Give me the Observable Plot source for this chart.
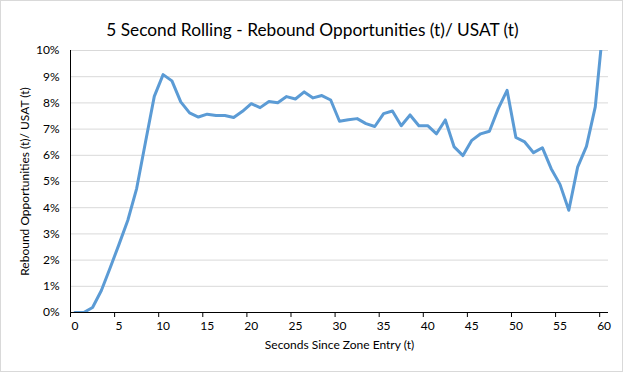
<!DOCTYPE html>
<html>
<head>
<meta charset="utf-8">
<script src="https://cdn.jsdelivr.net/npm/d3@7"></script>
<script src="https://cdn.jsdelivr.net/npm/@observablehq/plot@0.6"></script>
<style>
  html, body { margin: 0; padding: 0; background: #fff; }
  #chart svg { display: block; }
</style>
</head>
<body>
<div id="chart"></div>
<script>
const title = "5 Second Rolling - Rebound Opportunities (t)/ USAT (t)";
const xTitle = "Seconds Since Zone Entry (t)";
const yTitle = "Rebound Opportunities (t)/ USAT (t)";

const seconds = [0,1,2,3,4,5,6,7,8,9,10,11,12,13,14,15,16,17,18,19,20,
  21,22,23,24,25,26,27,28,29,30,31,32,33,34,35,36,37,38,39,40,
  41,42,43,44,45,46,47,48,49,50,51,52,53,54,55,56,57,58,59,60];
const ratioPct = [0, 0, 0.19, 0.84, 1.71, 2.6, 3.52, 4.73, 6.5, 8.25, 9.08,
  8.84, 8.04, 7.62, 7.46, 7.57, 7.52, 7.52, 7.44, 7.68, 7.97,
  7.82, 8.05, 8.01, 8.24, 8.15, 8.42, 8.19, 8.28, 8.11, 7.30,
  7.36, 7.40, 7.21, 7.10, 7.59, 7.69, 7.13, 7.54, 7.13, 7.13,
  6.82, 7.35, 6.32, 5.99, 6.57, 6.82, 6.92, 7.78, 8.48, 6.68,
  6.51, 6.10, 6.29, 5.49, 4.89, 3.90, 5.55, 6.34, 7.85, 11.3];
const xTickLabels = [0,5,10,15,20,25,30,35,40,45,50,55,60];
const xTickMarks = [-0.5,4.5,9.5,14.5,19.5,24.5,29.5,34.5,39.5,44.5,49.5,54.5,59.5];
const yTicks = [0,1,2,3,4,5,6,7,8,9,10];

const data = seconds.map((t, i) => ({t, v: ratioPct[i]}));
const font = "Lato, 'Open Sans', sans-serif";

const chart = Plot.plot({
  width: 623,
  height: 372,
  marginTop: 50,
  marginBottom: 60,
  marginLeft: 70,
  marginRight: 15,
  style: {fontFamily: font, fontSize: "12px", color: "#000", background: "#fff"},
  x: {domain: [-0.5, 60.5]},
  y: {domain: [0, 10]},
  marks: [
    Plot.gridY(yTicks, {stroke: "#D9D9D9", strokeOpacity: 1}),
    Plot.axisY(yTicks, {tickSize: 0, tickPadding: 11, tickFormat: d => d + "%", label: null, fontSize: 12, fill: "#000"}),
    Plot.axisX(xTickLabels, {tickSize: 0, tickPadding: 9, label: null, fontSize: 12, fill: "#000"}),
    Plot.axisX(xTickMarks, {tickSize: 5, tickFormat: () => "", label: null, stroke: "#000"}),
    Plot.line(data, {x: "t", y: "v", stroke: "#5B9BD5", strokeWidth: 3, strokeLinejoin: "round", strokeLinecap: "round", clip: true}),
    Plot.ruleY([0], {stroke: "#000"}),
    Plot.ruleX([-0.5], {stroke: "#000"}),
    Plot.text([title], {frameAnchor: "top", textAnchor: "middle", dx: -27, dy: -27, fontSize: 17.3, fill: "#000", fontFamily: font}),
    Plot.text([xTitle], {frameAnchor: "bottom", textAnchor: "middle", dy: 36, fontSize: 12, fill: "#000", fontFamily: font}),
    Plot.text([yTitle], {frameAnchor: "left", textAnchor: "middle", dx: -45, rotate: -90, fontSize: 12, fill: "#000", fontFamily: font})
  ]
});

d3.select(chart).append("rect")
  .attr("x", 0.5).attr("y", 0.5).attr("width", 622).attr("height", 371)
  .attr("fill", "none").attr("stroke", "#D9D9D9");

document.getElementById("chart").append(chart);
</script>
</body>
</html>
